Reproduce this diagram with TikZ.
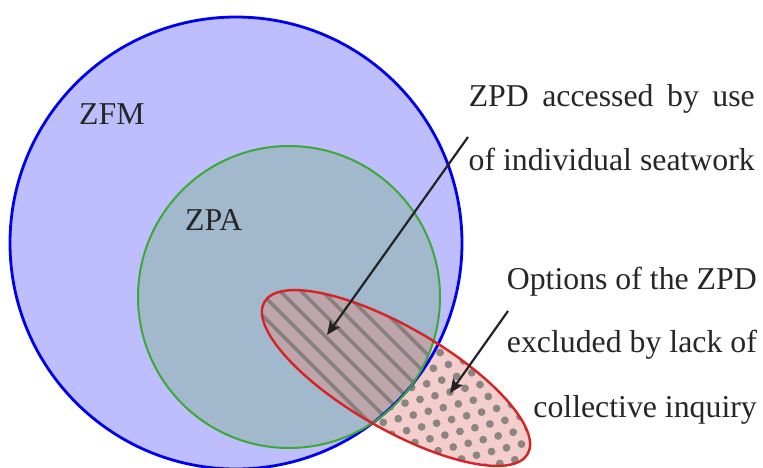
\documentclass[tikz,border=0pt]{standalone}
\usepackage{fontspec}
\setmainfont{Liberation Serif}
\usetikzlibrary{arrows.meta}

\definecolor{zfmfill}{RGB}{190,190,255}
\definecolor{zfmline}{RGB}{0,0,240}
\definecolor{zpafill}{RGB}{161,184,205}
\definecolor{zpaline}{RGB}{62,168,52}
\definecolor{zpdfill}{RGB}{244,206,205}
\definecolor{zpdline}{RGB}{215,35,35}
\definecolor{overlap}{RGB}{189,165,172}
\definecolor{hatchgray}{RGB}{135,128,126}
\definecolor{dotgray}{RGB}{140,134,131}
\definecolor{txtgray}{RGB}{38,38,38}
\definecolor{arrowgray}{RGB}{35,35,35}

\begin{document}
\begin{tikzpicture}[x=1pt,y=-1pt,
  lbl/.style={inner sep=0pt, text=txtgray, font=\fontsize{31.8}{38}\selectfont},
  pointer/.style={draw=arrowgray, line width=2.2pt,
    -{Stealth[length=14pt,width=12pt,inset=3pt]}},
  zpd/.style={shift={(396,378)}, rotate=-30},
  hatchline/.style={draw=hatchgray, line width=3.6pt}]
\useasboundingbox (0,0) rectangle (763,467);

% zone fills
\fill[zfmfill] (236,243) circle [radius=226];
\fill[zpafill] (289,297) circle [radius=151];
\fill[zpdfill, zpd] (0,0) ellipse [x radius=152, y radius=51];

% dotted and hatched parts of the ZPD ellipse
\begin{scope}
  \clip[zpd] (0,0) ellipse [x radius=152, y radius=51];
  \foreach \i in {-12,...,12}
    \foreach \j in {-12,...,12}
      \fill[dotgray] ({450+15*\i+8.3*\j},{392-3.7*\i+11.9*\j}) circle [radius=3.9];
  \clip (289,297) circle [radius=151];
  \fill[overlap] (200,200) rectangle (520,520);
  \foreach \k in {-10,...,8}
    \draw[hatchline] ({260+21*\k},250) -- ({490+21*\k},480);
\end{scope}

% zone outlines
\draw[zfmline, line width=2.8pt] (236,243) circle [radius=226];
\draw[zpaline, line width=2pt] (289,297) circle [radius=151];
\draw[zpdline, line width=2.4pt, zpd] (0,0) ellipse [x radius=152, y radius=51];

% labels
\node[lbl, anchor=base west] (zfm) at (79,124) {ZFM};
\node[lbl, anchor=base west] (zpa) at (185,230) {ZPA};
\node[lbl, anchor=base east] (seat1) at (755,106) {\makebox[286pt][s]{ZPD accessed by use}};
\node[lbl, anchor=base east] (seat2) at (755,170) {of individual seatwork};
\node[lbl, anchor=base east] (excl1) at (757,289) {Options of the ZPD};
\node[lbl, anchor=base east] (excl2) at (757,352) {excluded by lack of};
\node[lbl, anchor=base east] (excl3) at (757,417) {collective inquiry};

% pointers
\coordinate (seatfrom) at (468,137);
\coordinate (seatto) at (327,335);
\coordinate (exclfrom) at (508,311);
\coordinate (exclto) at (450,393);
\draw[pointer] (seatfrom) -- (seatto);
\draw[pointer] (exclfrom) -- (exclto);
\end{tikzpicture}
\end{document}
